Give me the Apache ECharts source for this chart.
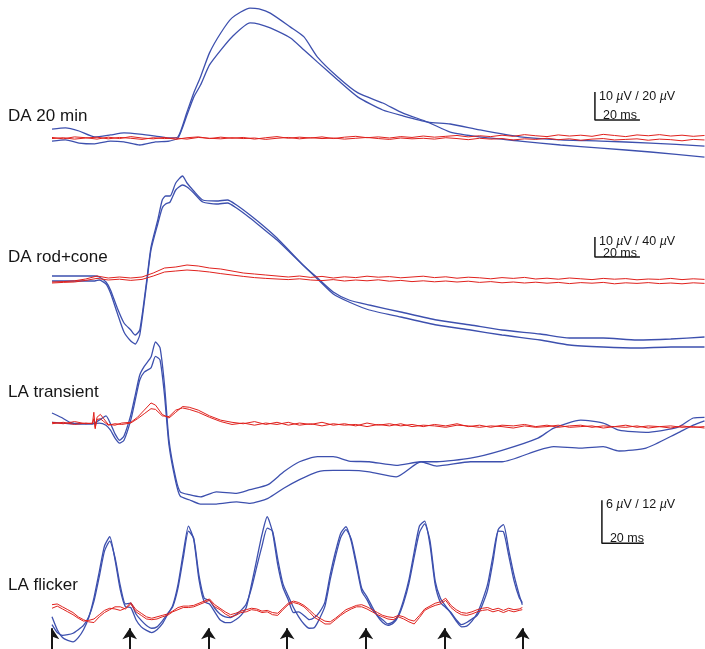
<!DOCTYPE html>
<html><head><meta charset="utf-8">
<script src="https://cdn.jsdelivr.net/npm/echarts@6/dist/echarts.min.js"></script>
<style>html,body{margin:0;padding:0;background:#fff}#c{width:705px;height:649px}</style>
</head><body><div id="c"></div>
<script>
// ---------- DATA (time in ms, voltage in µV) ----------
const panelLabels = ['DA 20 min', 'DA rod+cone', 'LA transient', 'LA flicker'];
const scaleLabels = ['10 {i|µ}V / 20 {i|µ}V', '10 {i|µ}V / 40 {i|µ}V', '6 {i|µ}V / 12 {i|µ}V'];
const scaleTimeLabel = '20 ms';

// shared time base for noisy red traces (panels 1, 2)
const tR = [0,5,10,15,20,25,30,35,40,45,50,55,60,65,70,75,80,85,90,95,100,105,110,115,120,125,130,135,140,145,150,155,160,165,170,175,180,185,190,195,200,205,210,215,220,225,230,235,240,245,250,255,260,265,270,275,280,285,290];

// Panel 1: DA 20 min
const t1 = [0,6,12,19,26,32,39,46,52,56,60,63,66,70,75,80,88,92,97,106,112,118,127,136,147,156,167,177,190,208,226,244,266,290];
const blueA1 = [3.2,3.6,2.5,0.4,1.1,1.8,1.4,0.7,0,0.4,9.3,16.1,21.8,30.4,37.5,42.9,46.4,46.1,44.6,39.6,36.1,28.9,21.8,16.1,12.5,8.9,5.7,2.1,0.4,-1.1,-2.5,-3.6,-5.0,-6.8];
const blueB1 = [-1.1,-0.7,-1.8,-2.1,-1.1,-1.4,-2.5,-1.4,-1.1,0,8.2,14.6,18.9,26.1,31.4,36.1,41.1,40.7,39.3,35.7,31.4,27.1,20.7,14.6,10.0,7.9,5.7,5.0,2.9,0.4,-0.7,-1.1,-1.8,-2.9];
const redA1 = [0.2,-0.3,0.4,0.1,-0.4,0.3,-0.2,0.5,0.0,-0.3,0.2,-0.5,0.1,0.4,-0.2,0.3,-0.1,0.2,-0.4,0.1,0.5,-0.1,0.3,0.0,0.4,-0.2,0.3,0.6,0.1,0.4,0.0,0.5,0.2,0.7,0.3,0.6,0.9,0.4,0.8,0.5,1.0,0.6,1.2,0.8,0.5,1.1,0.7,1.0,0.6,1.3,0.9,0.5,1.1,0.8,1.2,0.7,1.0,0.6,0.9];
const redB1 = [-0.2,0.1,-0.4,0.0,0.3,-0.3,0.2,-0.1,-0.5,0.1,-0.2,0.0,-0.4,0.2,-0.1,-0.3,0.1,-0.2,0.0,-0.5,-0.1,0.2,-0.3,0.1,-0.2,0.0,-0.4,-0.1,0.2,-0.2,-0.5,0.0,-0.3,-0.1,-0.4,0.1,-0.2,-0.6,-0.1,-0.4,-0.2,-0.7,-0.3,-0.5,-0.1,-0.6,-0.3,-0.8,-0.4,-0.2,-0.7,-0.5,-0.3,-0.8,-0.4,-0.6,-1.0,-0.5,-0.7];

// Panel 2: DA rod+cone
const t2 = [0,8,15,19,21,24,26,29,32,35,37,39,42,44,47,49,50.5,52.5,55,58,60,63,67,73,78,82,88,94,100,106,112,118,125,132,141,155,171,186,200,217,230,245,260,275,290];
const blueA2 = [2.0,2.0,2.0,2.0,1.5,-1.0,-5.0,-14.0,-21.5,-25.0,-27.5,-25.0,-1.0,16.5,30.0,40.0,42.0,42.0,48.5,52.0,48.5,44.5,40.0,39.5,40.0,37.5,32.5,27.0,21.0,14.0,7.0,1.0,-6.0,-10.0,-12.5,-16.0,-20.0,-22.5,-25.0,-27.0,-29.0,-29.0,-30.0,-29.5,-28.5];
const blueB2 = [-0.5,-0.5,-0.5,-0.5,0.0,-2.0,-6.5,-16.5,-26.0,-30.5,-32.0,-27.5,-2.5,15.0,28.0,36.0,38.0,39.0,45.0,47.5,46.5,43.5,39.0,38.0,38.5,36.0,31.0,25.5,20.0,13.5,7.0,0.5,-7.0,-11.0,-15.0,-18.5,-22.5,-25.0,-27.5,-30.0,-32.5,-33.5,-34.0,-33.5,-33.5];
const redA2 = [-1.0,-0.8,-0.4,0.5,2.0,1.0,1.5,1.0,1.5,3.5,6.0,6.5,7.5,7.0,6.0,5.5,4.5,3.5,3.0,2.5,2.0,1.5,2.0,1.3,1.8,1.0,1.6,1.2,1.9,1.4,1.7,1.1,1.5,1.9,1.2,1.6,0.9,1.4,1.1,0.6,1.2,0.8,1.3,0.5,0.9,0.4,1.0,0.6,0.2,0.8,0.4,0.7,0.1,0.5,0.3,0.8,0.2,0.6,0.3];
const redB2 = [-1.5,-1.2,-1.0,-0.2,0.8,0.0,0.4,-0.2,0.3,2.0,4.0,4.5,5.0,4.6,4.0,3.2,2.5,1.8,1.2,0.8,0.5,0.2,0.6,0.0,-0.3,0.2,-0.5,0.0,-0.4,0.1,-0.6,-0.2,-0.8,-0.4,-0.9,-0.5,-1.0,-0.6,-1.2,-0.8,-1.4,-1.0,-1.5,-1.1,-1.6,-1.2,-1.8,-1.3,-1.6,-1.2,-1.9,-1.4,-1.7,-1.3,-1.8,-1.5,-1.9,-1.4,-1.7];

// Panel 3: LA transient
const t3 = [0,4,8,12,18,21,24,26,28,30,32,35,37,39,41,44,46,48,50,52,55,57,61,66,73,82,88,96,103,110,118,125,132,141,153,164,171,186,200,216,223,235,245,252,264,278,285,290];
const blueA3 = [1.4,0.8,0.1,-0.1,-0.1,0.4,1.0,-0.1,-1.5,-2.4,-1.8,1.1,3.9,6.7,7.9,9.2,11.3,10.5,5.3,-2.4,-7.7,-9.6,-10.0,-10.3,-9.6,-9.8,-9.3,-8.6,-6.8,-5.4,-4.7,-4.7,-5.3,-5.4,-5.9,-5.4,-5.4,-4.9,-3.8,-2.1,-0.7,0.4,0,-1.0,-1.3,-0.6,0.7,0.8];
const blueB3 = [0.1,0,-0.1,-0.1,-0.1,0,-0.3,-1.0,-2.1,-2.8,-2.4,0.4,3.2,6.0,7.1,7.7,9.3,8.8,3.9,-3.1,-8.2,-10.2,-10.7,-11.3,-11.3,-11.0,-11.2,-10.5,-9.1,-7.9,-6.8,-6.6,-6.6,-6.8,-7.5,-5.4,-6.0,-5.4,-5.4,-3.8,-3.3,-3.5,-3.3,-3.9,-3.5,-1.4,-0.3,0.3];
const tR3 = [0,5,10,15,18,18.6,19.2,20,21.5,23,25,28,31,35,38,41,44,46,49,52,55,58,61,65,70,75,80,85,90,95,100,105,110,115,120,125,130,135,140,145,150,155,160,165,170,175,180,185,190,195,200,205,210,215,220,225,230,235,240,245,250,255,260,265,270,275,280,285,290];
const redA3 = [0.1,-0.1,0.2,-0.1,0.0,1.5,-0.8,0.8,1.2,0.6,-0.2,-0.3,0.0,0.1,0.8,1.8,2.8,2.5,1.2,0.7,1.5,2.3,2.2,1.8,1.0,0.4,0.1,-0.1,0.2,-0.2,0.1,-0.3,0.0,-0.2,0.1,-0.3,-0.1,-0.4,0.0,-0.3,-0.1,-0.4,-0.2,-0.5,-0.2,-0.4,-0.1,-0.5,-0.3,-0.6,-0.3,-0.4,-0.2,-0.5,-0.3,-0.6,-0.4,-0.3,-0.6,-0.4,-0.5,-0.3,-0.6,-0.4,-0.5,-0.7,-0.4,-0.6,-0.5];
const redB3 = [-0.1,0.1,-0.2,0.0,-0.1,0.6,-0.6,0.5,0.6,0.2,-0.3,-0.1,-0.2,0.0,0.6,1.3,2.0,1.9,1.0,0.9,1.8,2.1,1.9,1.5,0.8,0.2,-0.2,0.0,-0.3,0.0,-0.2,0.1,-0.3,-0.1,-0.4,-0.1,-0.3,-0.2,-0.5,-0.2,-0.4,-0.1,-0.5,-0.3,-0.4,-0.6,-0.3,-0.4,-0.6,-0.4,-0.5,-0.7,-0.4,-0.6,-0.5,-0.3,-0.6,-0.5,-0.4,-0.7,-0.5,-0.6,-0.4,-0.7,-0.5,-0.4,-0.6,-0.5,-0.7];

// Panel 4: LA flicker
const t4 = [0,2.5,5,7.5,10,12.5,15,17.5,20,22.5,25,27.5,30,32.5,35,37.5,40,42.5,45,47.5,50,52.5,55,57.5,60,62.5,65,67.5,70,72.5,75,77.5,80,82.5,85,87.5,90,92.5,95,97.5,100,102.5,105,107.5,110,112.5,115,117.5,120,122.5,125,127.5,130,132.5,135,137.5,140,142.5,145,147.5,150,152.5,155,157.5,160,162.5,165,167.5,170,172.5,175,177.5,180,182.5,185,187.5,190,192.5,195,197.5,200,202.5,205,207.5,210,212.5,215,217.5,220,222.5,224];
const blueA4 = [-1.0,-2.8,-3.9,-4.3,-4.5,-3.9,-2.8,-1.1,1.7,5.3,8.9,10.2,7.0,2.8,0.4,0.3,-1.4,-2.4,-2.9,-3.2,-2.8,-2.0,-0.7,0.6,3.5,7.9,11.7,9.8,4.2,1.1,0.8,-0.3,-1.4,-1.8,-1.8,-1.4,-0.8,0.3,3.5,7.0,10.5,13.0,10.9,6.3,3.1,1.4,-0.4,-0.3,-0.8,-1.4,-1.1,-0.3,1.1,4.9,8.1,10.7,11.6,9.6,6.1,2.6,1.4,0,-0.8,-1.4,-2.0,-1.7,-0.7,1.4,4.2,8.1,11.7,12.4,9.1,3.5,1.0,0.3,-0.4,-1.4,-2.1,-1.8,-1.3,-0.8,0.7,2.8,6.7,11.2,11.9,8.4,4.9,2.1,0.7];
const blueB4 = [-2.1,-3.2,-3.6,-3.5,-3.3,-2.8,-2.2,-1.0,1.2,4.6,8.2,9.6,7.3,3.4,0.8,0.9,-0.6,-1.5,-2.2,-2.6,-2.4,-1.6,-0.6,0.4,3.0,7.2,11.0,10.0,4.8,1.6,1.3,0.2,-0.6,-1.0,-1.1,-0.7,-0.1,0.8,3.0,6.0,8.9,11.4,11.0,7.1,3.6,1.9,0.3,-1.0,-2.0,-2.6,-2.5,-1.2,0.5,4.2,7.4,10.1,11.2,9.9,6.6,3.0,1.8,0.4,-0.9,-1.8,-2.2,-1.9,-0.9,1.0,3.7,7.4,10.8,12.0,9.7,4.0,1.6,0.5,-0.5,-1.6,-2.4,-2.3,-1.6,-0.5,1.3,3.6,7.5,11.0,10.9,7.6,4.1,1.7,1.0];
const redA4 = [0.7,0.8,0.4,0,-0.4,-1.0,-1.4,-1.7,-1.8,-1.0,-0.4,0,0.4,0.4,0.1,0.8,-0.3,-0.8,-1.3,-1.4,-1.3,-1.0,-0.8,-0.3,0,0.3,0.3,0.4,0.7,1.0,1.3,0.4,0,-0.6,-1.0,-0.8,-0.4,-0.3,0,-0.1,-0.4,-0.3,-0.7,-0.8,0,0.7,1.0,0.8,0.4,-0.3,-1.1,-1.5,-2.0,-2.0,-1.4,-0.8,-0.3,0.1,0.4,0.4,0.1,-0.3,-0.7,-1.0,-1.3,-1.4,-1.0,-1.3,-1.7,-2.0,-1.1,-0.1,0.3,0.6,0.8,1.3,0.3,-0.3,-0.7,-0.8,-0.6,-0.3,-0.1,0,-0.3,-0.1,-0.4,-0.1,-0.3,-0.1,0];
const redB4 = [0.2,0.5,0.1,-0.3,-0.7,-1.2,-1.6,-1.5,-1.3,-0.7,-0.1,0.2,0.1,-0.1,0.2,1.0,0.0,-0.5,-1.0,-1.2,-1.0,-0.8,-0.6,-0.2,0.3,0.5,0.5,0.6,0.9,1.2,1.5,0.7,0.2,-0.3,-0.7,-0.5,-0.2,0.0,0.2,0.1,-0.2,-0.1,-0.4,-0.5,0.2,0.9,1.2,1.0,0.6,0.0,-0.7,-1.2,-1.6,-1.7,-1.2,-0.6,0.0,0.3,0.6,0.7,0.4,0.0,-0.4,-0.8,-1.0,-1.1,-0.8,-1.0,-1.4,-1.6,-0.8,0.1,0.5,0.9,1.1,1.6,0.6,0.0,-0.4,-0.5,-0.3,0.0,0.2,0.3,0.0,0.2,-0.1,0.2,0.0,0.1,0.3];
const flashTimes = [0, 37, 74.5, 112, 149.5, 187, 224];

// ---------- LAYOUT ----------
const BLUE = '#3d50ae', RED = '#e0211d', INK = '#161616';
const FONT = '"Liberation Sans", Arial, Helvetica, sans-serif';
const grids = [
  {left: 52, top: 0.8,   width: 652.5, height: 165.2},
  {left: 52, top: 170,   width: 652.5, height: 190},
  {left: 52, top: 333.4, width: 652.5, height: 179.25},
  {left: 52, top: 495.3, width: 653.1, height: 154.2}
];
const xMax = [290, 290, 290, 311];
const yRange = [[-10, 49], [-40, 55], [-12.5, 12.5], [-5.5, 16]];
const labelY = [116, 257, 392, 585];
// scale bars: [grid, t of corner, v of corner, height µV, width ms, label index, time-label offset px]
const bars = [[0, 241.3, 6.4, 10, 20, 0, 1.5], [1, 241.3, 11.5, 10, 20, 1, 3.5], [3, 261.9, 9.3, 6, 20, 2, 2]];

const pair = (t, v) => t.map((x, i) => [x, v[i]]);
const trace = (g, t, v, color, w, sm) => ({
  type: 'line', xAxisIndex: g, yAxisIndex: g, data: pair(t, v),
  symbol: 'none', showSymbol: false, clip: false, animation: false, silent: true,
  smooth: sm || false,
  lineStyle: {color: color, width: w}
});

const series = [
  trace(0, t1, blueA1, BLUE, 1.3, 0.2), trace(0, t1, blueB1, BLUE, 1.3, 0.2),
  trace(0, tR, redA1, RED, 1), trace(0, tR, redB1, RED, 1),
  trace(1, t2, blueA2, BLUE, 1.3, 0.2), trace(1, t2, blueB2, BLUE, 1.3, 0.2),
  trace(1, tR, redA2, RED, 1), trace(1, tR, redB2, RED, 1),
  trace(2, t3, blueA3, BLUE, 1.3, 0.2), trace(2, t3, blueB3, BLUE, 1.3, 0.2),
  trace(2, tR3, redA3, RED, 1), trace(2, tR3, redB3, RED, 1),
  trace(3, t4, blueA4, BLUE, 1.3, 0.2), trace(3, t4, blueB4, BLUE, 1.3, 0.2),
  trace(3, t4, redA4, RED, 1), trace(3, t4, redB4, RED, 1)
];
bars.forEach(b => {
  series.push({
    type: 'line', xAxisIndex: b[0], yAxisIndex: b[0], symbol: 'none', clip: false, animation: false, silent: true,
    data: [[b[1], b[2] + b[3]], [b[1], b[2]], [b[1] + b[4], b[2]]],
    lineStyle: {color: INK, width: 1.5}
  });
});
series.push({
  type: 'lines', coordinateSystem: 'cartesian2d', xAxisIndex: 3, yAxisIndex: 3,
  animation: false, silent: true, symbol: ['none', 'arrow'], symbolSize: 11,
  lineStyle: {color: INK, width: 2, opacity: 1, curveness: 0},
  data: flashTimes.map(t => ({coords: [[t, -5.6], [t, -2.6]]}))
});

const chart = echarts.init(document.getElementById('c'), null, {renderer: 'canvas'});
chart.setOption({
  animation: false,
  backgroundColor: '#fff',
  grid: grids,
  xAxis: grids.map((g, i) => ({type: 'value', gridIndex: i, min: 0, max: xMax[i], show: false})),
  yAxis: grids.map((g, i) => ({type: 'value', gridIndex: i, min: yRange[i][0], max: yRange[i][1], show: false})),
  series: series
});

const graphic = [];
panelLabels.forEach((txt, i) => {
  graphic.push({type: 'text', x: 8, y: labelY[i], silent: true,
    style: {text: txt, fontSize: 17, fontFamily: FONT, fill: INK, verticalAlign: 'middle'}});
});
bars.forEach(b => {
  const top = chart.convertToPixel({gridIndex: b[0]}, [b[1], b[2] + b[3]]);
  const corner = chart.convertToPixel({gridIndex: b[0]}, [b[1], b[2]]);
  graphic.push({type: 'text', x: top[0] + 4, y: top[1] + 4.5, silent: true,
    style: {text: scaleLabels[b[5]], fontSize: 12.5, fontFamily: FONT, fill: INK, verticalAlign: 'middle',
      rich: {i: {fontStyle: 'italic', fontSize: 12.5, fontFamily: FONT, fill: INK}}}});
  graphic.push({type: 'text', x: corner[0] + 8, y: corner[1] + b[6], silent: true,
    style: {text: scaleTimeLabel, fontSize: 12.5, fontFamily: FONT, fill: INK, verticalAlign: 'bottom'}});
});
chart.setOption({graphic: graphic});
</script>
</body></html>
